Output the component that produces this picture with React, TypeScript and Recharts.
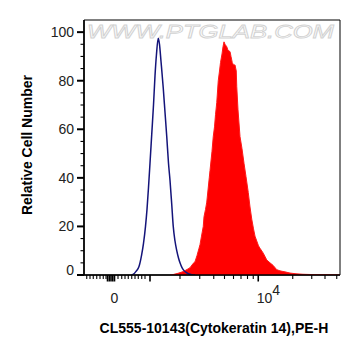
import React from 'react';
import { ComposedChart, Area, Line, XAxis, YAxis, ReferenceArea, Label } from 'recharts';

// Isotype control histogram (channel 0-1024 display scale, relative count)
const controlChannel = [190, 196, 208, 220, 230, 238, 246, 252, 258, 264, 271, 278, 284, 290, 297, 302, 308, 317, 324, 331, 338, 344, 351, 357, 364, 371, 378, 384, 392, 400, 410, 420, 432, 444];
const controlCount = [0, 0.2, 1.5, 3.5, 8, 13, 20, 27, 36, 46, 58, 70, 82, 91, 97.5, 95, 88, 77, 67, 57, 46, 39, 29, 20, 14, 10, 7, 5, 3, 1.8, 1, 0.4, 0.1, 0];

// Stained sample histogram
const stainedChannel = [344, 357, 376, 397, 416, 424, 437, 444, 452, 460, 464, 470, 477, 480, 486, 491, 496, 501, 504, 512, 517, 522, 526, 531, 537, 542, 546, 552, 556, 560, 564, 571, 576, 584, 588, 593, 598, 604, 609, 611, 616, 624, 632, 640, 648, 657, 664, 671, 678, 684, 691, 698, 704, 717, 731, 744, 756, 771, 784, 808, 824, 848, 876, 924, 984, 1024];
const stainedCount = [0, 0.2, 0.7, 1.4, 2.5, 3, 4.8, 5.5, 8, 11, 12.5, 16, 20, 24, 27, 30, 35, 40, 43, 51, 57, 61, 66, 71, 80, 84, 87.5, 91, 94, 96, 95, 94, 92.5, 92, 90, 87.5, 86.5, 86.5, 84, 77.6, 68, 57, 52, 46, 40.5, 34, 28, 23, 19, 16, 14, 12, 11, 9, 6.2, 5, 4, 2.2, 1.7, 1.2, 0.8, 0.5, 0.3, 0.15, 0.1, 0];

// X axis ticks (biexponential display channels)
const xTicks = [11, 24, 37, 51, 64, 77, 88, 94, 101, 108, 115, 122, 136, 151, 164, 177, 191, 204, 217, 231, 244, 264, 384, 463, 519, 562, 598, 628, 654, 677, 697, 835, 911, 964, 1011];
const xMajorTicks = [94, 101, 108, 115, 122, 264, 697];
const xLabelTicks = [122, 697];
const xLabelBase = ['0', '10'];
const xLabelExp = ['', '4'];

// Y axis ticks
const yTicks = [0, 5, 10, 15, 20, 25, 30, 35, 40, 45, 50, 55, 60, 65, 70, 75, 80, 85, 90, 95, 100];
const yLabelTicks = [0, 20, 40, 60, 80, 100];

const xTitle = 'CL555-10143(Cytokeratin 14),PE-H';
const yTitle = 'Relative Cell Number';
const watermark = 'WWW.PTGLAB.COM';

const controlData = controlChannel.map((ch, i) => ({ ch, control: controlCount[i] }));
const stainedData = stainedChannel.map((ch, i) => ({ ch, stained: stainedCount[i] }));

const FONT = '"Liberation Sans", Arial, sans-serif';

const XTick = (props: any) => {
  const { x, y, payload } = props;
  const v = payload.value;
  const major = xMajorTicks.includes(v);
  const li = xLabelTicks.indexOf(v);
  return (
    <g>
      <line x1={x} y1={y} x2={x} y2={y + (major ? 6.5 : 4)} stroke="#000" strokeWidth={major ? 1.6 : 1.1} />
      {li >= 0 && (
        <text
          x={xLabelExp[li] ? x - 1.5 : x}
          y={y + 28}
          textAnchor={xLabelExp[li] ? 'start' : 'middle'}
          fontSize={14}
          fontFamily={FONT}
          fill="#222"
        >
          {xLabelBase[li]}
          {xLabelExp[li] && <tspan dy={-8}>{xLabelExp[li]}</tspan>}
        </text>
      )}
    </g>
  );
};

const YTick = (props: any) => {
  const { x, y, payload } = props;
  const v = payload.value;
  const major = yLabelTicks.includes(v);
  return (
    <g>
      <line x1={x} y1={y} x2={x - (major ? 7 : 3.5)} y2={y} stroke="#000" strokeWidth={major ? 2 : 1.1} />
      {major && (
        <text x={x - 10} y={v === 0 ? y - 5 : y} dy="0.35em" textAnchor="end" fontSize={14} fontFamily={FONT} fill="#222">
          {v}
        </text>
      )}
    </g>
  );
};

const Titles = () => (
  <g>
    <text
      x={27}
      y={145}
      transform="rotate(-90 27 145)"
      textAnchor="middle"
      dominantBaseline="central"
      fontSize={14}
      fontWeight="bold"
      fontFamily={FONT}
      fill="#000"
    >
      {yTitle}
    </text>
    <text x={214} y={328} textAnchor="middle" dominantBaseline="central" fontSize={14} fontWeight="bold" fontFamily={FONT} fill="#000">
      {xTitle}
    </text>
    <text
      x={87}
      y={38}
      textLength={247}
      lengthAdjust="spacingAndGlyphs"
      fontSize={18}
      fontFamily={FONT}
      fontStyle="italic"
      fill="#ffffff"
      stroke="#d2d2d2"
      strokeWidth={0.8}
    >
      {watermark}
    </text>
  </g>
);

export default function App() {
  return (
    <div style={{ position: 'absolute', left: 0, top: 0, width: 361, height: 356, background: '#fff' }}>
      <ComposedChart width={361} height={356} margin={{ top: 20, right: 21, left: 0, bottom: 0 }}>
        <XAxis
          dataKey="ch"
          type="number"
          domain={[0, 1024]}
          allowDataOverflow
          ticks={xTicks}
          interval={0}
          tickSize={0}
          tickMargin={0}
          tickLine={false}
          tick={<XTick />}
          height={81}
          axisLine={{ stroke: '#000', strokeWidth: 1.6 }}
        />
        <YAxis
          type="number"
          domain={[0, 105]}
          allowDataOverflow
          ticks={yTicks}
          interval={0}
          tickSize={0}
          tickMargin={0}
          tickLine={false}
          tick={<YTick />}
          width={84}
          axisLine={{ stroke: '#000', strokeWidth: 1.6 }}
        >
          <Label content={() => <Titles />} />
        </YAxis>
        <ReferenceArea x1={0} x2={1024} y1={0} y2={105} fill="none" stroke="#000" strokeWidth={1} ifOverflow="visible" />
        <Area
          data={stainedData}
          dataKey="stained"
          type="linear"
          fill="#ff0000"
          fillOpacity={1}
          stroke="#ff1a1a"
          strokeWidth={1}
          isAnimationActive={false}
          dot={false}
          activeDot={false}
        />
        <Line
          data={controlData}
          dataKey="control"
          type="monotone"
          stroke="#14147a"
          strokeWidth={1.5}
          dot={false}
          activeDot={false}
          isAnimationActive={false}
        />
      </ComposedChart>
    </div>
  );
}
